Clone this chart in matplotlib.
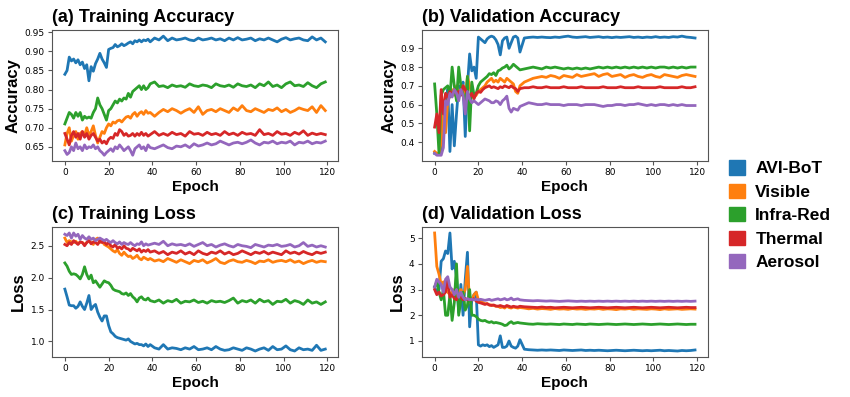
import matplotlib
matplotlib.use('Agg')
import matplotlib.pyplot as plt
import matplotlib.ticker as ticker
from matplotlib.patches import Patch

# epochs: every epoch up to 39, then every other epoch
epochs = list(range(0, 40)) + list(range(41, 120, 2))

labels = ['AVI-BoT', 'Visible', 'Infra-Red', 'Thermal', 'Aerosol']
colors = ['#1f77b4', '#ff7f0e', '#2ca02c', '#d62728', '#9467bd']

# (a) training accuracy
train_acc_avibot = [.840, .850, .885, .875, .880, .870, .878, .865, .872, .855, .865, .823, .860, .848, .868, .880, .895, .880, .870, .858,
                    .905, .908, .910, .918, .912, .915, .920, .915, .918, .922, .925, .920, .928, .925, .930, .925, .930, .928, .932, .925,
                    .935, .930, .940, .928, .935, .930, .932, .935, .930, .928, .935, .930, .932, .935, .930, .933, .928, .935, .930, .936,
                    .930, .932, .935, .928, .933, .930, .935, .930, .925, .932, .936, .930, .933, .935, .930, .928, .938, .930, .935, .925]
train_acc_visible = [.655, .685, .700, .665, .680, .690, .670, .685, .690, .680, .700, .680, .690, .705, .680, .660, .675, .690, .685, .700,
                     .710, .705, .715, .712, .718, .720, .715, .722, .728, .730, .725, .735, .740, .730, .738, .742, .735, .745, .738, .740,
                     .730, .740, .748, .742, .750, .745, .738, .745, .750, .740, .755, .735, .745, .748, .742, .750, .745, .740, .752, .745,
                     .758, .745, .742, .750, .745, .740, .748, .745, .752, .742, .748, .740, .745, .752, .748, .745, .755, .740, .758, .745]
train_acc_infrared = [.710, .725, .740, .735, .725, .740, .730, .740, .720, .730, .725, .728, .725, .740, .750, .778, .760, .750, .735, .720,
                      .745, .750, .760, .770, .765, .775, .770, .778, .775, .790, .780, .795, .800, .805, .810, .800, .810, .800, .805, .815,
                      .820, .808, .810, .805, .812, .808, .810, .806, .815, .810, .808, .812, .810, .805, .815, .810, .808, .812, .806, .815,
                      .810, .808, .812, .805, .815, .810, .820, .808, .812, .805, .815, .820, .810, .812, .808, .818, .810, .805, .815, .820]
train_acc_thermal = [.685, .670, .655, .680, .690, .675, .685, .670, .690, .675, .685, .670, .680, .685, .675, .665, .670, .660, .665, .658,
                     .670, .675, .672, .685, .680, .695, .690, .680, .685, .678, .680, .685, .678, .685, .680, .688, .680, .685, .678, .682,
                     .690, .680, .685, .680, .688, .682, .685, .678, .690, .683, .685, .680, .688, .682, .685, .680, .690, .682, .686, .680,
                     .688, .683, .685, .680, .695, .682, .685, .680, .690, .683, .685, .680, .688, .683, .692, .680, .686, .682, .685, .682]
train_acc_aerosol = [.640, .630, .635, .650, .640, .660, .645, .650, .640, .655, .645, .650, .648, .655, .645, .650, .640, .635, .628, .635,
                     .640, .645, .638, .650, .645, .655, .648, .640, .645, .650, .640, .628, .645, .650, .655, .645, .650, .640, .655, .648,
                     .645, .650, .655, .648, .645, .652, .650, .655, .648, .658, .652, .655, .660, .655, .658, .665, .660, .655, .660, .662,
                     .658, .662, .668, .660, .655, .662, .660, .665, .658, .662, .660, .665, .655, .662, .660, .665, .658, .662, .660, .665]

# (b) validation accuracy
val_acc_avibot = [.34, .34, .34, .35, .50, .62, .68, .35, .60, .38, .55, .70, .68, .72, .43, .70, .87, .78, .80, .74,
                  .96, .95, .94, .93, .95, .96, .965, .96, .945, .92, .865, .94, .955, .96, .90, .93, .96, .965, .955, .88,
                  .955, .958, .960, .958, .960, .958, .957, .960, .958, .962, .965, .960, .958, .960, .962, .958, .960, .962, .958, .960,
                  .957, .960, .958, .960, .962, .958, .960, .957, .960, .958, .962, .958, .960, .958, .962, .960, .965, .960, .958, .955]
val_acc_visible = [.35, .34, .34, .40, .60, .45, .62, .65, .68, .65, .70, .66, .68, .70, .62, .75, .70, .66, .64, .65,
                   .67, .68, .69, .70, .72, .73, .74, .72, .73, .72, .74, .73, .72, .74, .73, .72, .71, .67, .66, .70,
                   .72, .73, .74, .745, .75, .745, .755, .75, .74, .755, .75, .745, .76, .75, .755, .76, .765, .75, .76, .765,
                   .75, .755, .76, .745, .755, .76, .75, .745, .755, .76, .75, .745, .76, .755, .75, .745, .755, .76, .755, .75]
val_acc_infrared = [.71, .55, .34, .65, .68, .69, .70, .64, .80, .70, .62, .80, .70, .65, .60, .75, .46, .72, .65, .66,
                    .70, .72, .73, .74, .75, .765, .76, .77, .755, .78, .785, .795, .80, .81, .79, .80, .815, .805, .795, .785,
                    .79, .795, .80, .795, .79, .80, .795, .80, .795, .79, .795, .79, .795, .79, .795, .79, .795, .80, .795, .80,
                    .795, .80, .795, .80, .795, .80, .795, .80, .795, .80, .795, .80, .80, .795, .80, .795, .80, .795, .80, .80]
val_acc_thermal = [.48, .55, .45, .68, .55, .66, .64, .67, .65, .68, .66, .67, .65, .70, .68, .66, .64, .66, .63, .66,
                   .67, .665, .68, .69, .695, .70, .69, .695, .69, .685, .695, .69, .70, .695, .69, .70, .69, .685, .67, .685,
                   .69, .69, .695, .69, .69, .695, .69, .69, .69, .695, .69, .69, .69, .695, .69, .69, .69, .69, .695, .69,
                   .69, .69, .695, .69, .69, .69, .695, .69, .69, .69, .69, .695, .69, .69, .69, .69, .695, .69, .69, .695]
val_acc_aerosol = [.34, .33, .33, .33, .37, .62, .60, .66, .64, .68, .66, .62, .68, .65, .55, .67, .63, .61, .62, .61,
                   .60, .61, .62, .63, .625, .62, .61, .61, .62, .615, .60, .62, .63, .645, .58, .56, .58, .575, .57, .59,
                   .60, .61, .605, .60, .60, .605, .60, .60, .60, .595, .60, .60, .60, .595, .60, .60, .60, .595, .59, .595,
                   .595, .60, .60, .595, .60, .60, .605, .60, .595, .60, .595, .60, .60, .595, .60, .595, .60, .595, .595, .595]

# (c) training loss
train_loss_avibot = [1.82, 1.70, 1.57, 1.56, 1.56, 1.52, 1.55, 1.62, 1.55, 1.50, 1.60, 1.72, 1.50, 1.55, 1.58, 1.46, 1.38, 1.32, 1.40, 1.40,
                     1.25, 1.15, 1.12, 1.08, 1.06, 1.05, 1.04, 1.03, 1.02, 1.04, 1.00, 0.98, 0.96, 0.97, 0.95, 0.95, 0.93, 0.96, 0.92, 0.95,
                     0.90, 0.88, 0.95, 0.88, 0.90, 0.89, 0.87, 0.90, 0.88, 0.92, 0.87, 0.88, 0.90, 0.87, 0.92, 0.88, 0.86, 0.87, 0.90, 0.88,
                     0.86, 0.90, 0.88, 0.85, 0.88, 0.90, 0.86, 0.92, 0.87, 0.88, 0.93, 0.87, 0.85, 0.90, 0.87, 0.88, 0.86, 0.94, 0.86, 0.88]
train_loss_visible = [2.62, 2.55, 2.58, 2.56, 2.55, 2.57, 2.53, 2.56, 2.55, 2.52, 2.55, 2.58, 2.55, 2.52, 2.60, 2.62, 2.55, 2.58, 2.52, 2.50,
                      2.48, 2.45, 2.42, 2.40, 2.44, 2.38, 2.35, 2.40, 2.36, 2.33, 2.34, 2.30, 2.32, 2.35, 2.30, 2.28, 2.32, 2.30, 2.28, 2.30,
                      2.26, 2.28, 2.25, 2.30, 2.27, 2.24, 2.28, 2.25, 2.22, 2.27, 2.25, 2.28, 2.23, 2.26, 2.30, 2.24, 2.22, 2.26, 2.28, 2.25,
                      2.24, 2.27, 2.25, 2.22, 2.26, 2.25, 2.28, 2.24, 2.26, 2.27, 2.25, 2.28, 2.24, 2.26, 2.22, 2.25, 2.27, 2.24, 2.26, 2.25]
train_loss_infrared = [2.23, 2.18, 2.10, 2.05, 2.06, 2.05, 2.02, 1.98, 2.05, 2.17, 2.05, 1.98, 2.04, 1.92, 1.95, 1.90, 1.85, 1.90, 1.95, 1.93,
                       1.92, 1.88, 1.82, 1.80, 1.79, 1.78, 1.75, 1.74, 1.76, 1.72, 1.75, 1.70, 1.67, 1.62, 1.68, 1.70, 1.66, 1.65, 1.68, 1.64,
                       1.62, 1.65, 1.60, 1.64, 1.62, 1.66, 1.60, 1.63, 1.62, 1.65, 1.61, 1.63, 1.60, 1.64, 1.62, 1.63, 1.61, 1.64, 1.68, 1.60,
                       1.64, 1.62, 1.65, 1.60, 1.66, 1.62, 1.64, 1.58, 1.63, 1.62, 1.66, 1.60, 1.64, 1.62, 1.58, 1.65, 1.60, 1.62, 1.58, 1.62]
train_loss_thermal = [2.52, 2.50, 2.55, 2.52, 2.58, 2.55, 2.52, 2.56, 2.55, 2.50, 2.55, 2.58, 2.53, 2.56, 2.55, 2.52, 2.58, 2.55, 2.56, 2.52,
                      2.55, 2.50, 2.48, 2.52, 2.46, 2.48, 2.45, 2.50, 2.46, 2.45, 2.42, 2.46, 2.44, 2.42, 2.45, 2.40, 2.43, 2.41, 2.44, 2.40,
                      2.42, 2.38, 2.41, 2.36, 2.40, 2.38, 2.42, 2.37, 2.40, 2.36, 2.42, 2.38, 2.36, 2.40, 2.38, 2.42, 2.37, 2.40, 2.36, 2.38,
                      2.42, 2.39, 2.36, 2.40, 2.38, 2.41, 2.37, 2.40, 2.38, 2.36, 2.42, 2.38, 2.40, 2.37, 2.41, 2.38, 2.36, 2.40, 2.38, 2.40]
train_loss_aerosol = [2.68, 2.66, 2.70, 2.62, 2.70, 2.65, 2.68, 2.60, 2.66, 2.62, 2.60, 2.64, 2.60, 2.62, 2.58, 2.60, 2.62, 2.60, 2.58, 2.60,
                      2.57, 2.55, 2.58, 2.55, 2.53, 2.56, 2.52, 2.55, 2.53, 2.52, 2.55, 2.52, 2.50, 2.53, 2.52, 2.56, 2.50, 2.53, 2.51, 2.52,
                      2.54, 2.52, 2.57, 2.50, 2.53, 2.51, 2.52, 2.50, 2.53, 2.49, 2.52, 2.55, 2.50, 2.52, 2.48, 2.51, 2.53, 2.50, 2.48, 2.52,
                      2.50, 2.49, 2.47, 2.52, 2.50, 2.48, 2.51, 2.50, 2.52, 2.49, 2.50, 2.52, 2.48, 2.50, 2.55, 2.49, 2.51, 2.48, 2.50, 2.48]

# (d) validation loss
val_loss_avibot = [3.1, 2.9, 3.0, 4.1, 4.2, 4.5, 4.4, 5.2, 3.8, 4.1, 3.5, 2.1, 3.2, 2.0, 3.4, 4.45, 1.55, 2.6, 2.8, 2.9,
                   0.85, 0.80, 0.85, 0.82, 0.85, 0.78, 0.82, 0.75, 0.80, 0.85, 1.20, 0.75, 0.75, 0.80, 1.00, 0.80, 0.75, 0.72, 0.80, 1.05,
                   0.68, 0.66, 0.65, 0.64, 0.65, 0.64, 0.65, 0.64, 0.63, 0.65, 0.64, 0.63, 0.64, 0.65, 0.63, 0.64, 0.63, 0.64, 0.63, 0.62,
                   0.63, 0.64, 0.63, 0.62, 0.63, 0.64, 0.63, 0.62, 0.63, 0.62, 0.63, 0.64, 0.62, 0.63, 0.62, 0.61, 0.63, 0.62, 0.63, 0.65]
val_loss_visible = [5.2, 3.9, 3.6, 3.2, 3.3, 3.0, 2.9, 2.8, 2.9, 3.0, 2.7, 2.9, 3.0, 2.8, 3.0, 3.9, 2.5, 2.6, 2.8, 2.9,
                    2.6, 2.55, 2.5, 2.45, 2.45, 2.4, 2.4, 2.38, 2.35, 2.35, 2.3, 2.32, 2.28, 2.35, 2.3, 2.28, 2.32, 2.3, 2.28, 2.3,
                    2.28, 2.25, 2.27, 2.24, 2.26, 2.25, 2.23, 2.26, 2.24, 2.25, 2.23, 2.26, 2.24, 2.25, 2.23, 2.25, 2.24, 2.26, 2.23, 2.25,
                    2.24, 2.22, 2.25, 2.24, 2.26, 2.23, 2.25, 2.24, 2.23, 2.25, 2.24, 2.22, 2.25, 2.23, 2.24, 2.25, 2.23, 2.24, 2.25, 2.24]
val_loss_infrared = [3.1, 3.3, 2.9, 2.6, 3.0, 2.0, 2.0, 2.8, 1.8, 2.5, 4.0, 2.0, 2.6, 2.9, 2.2, 2.4, 3.0, 2.0, 2.0, 1.95,
                     1.85, 1.8, 1.78, 1.8, 1.75, 1.72, 1.75, 1.7, 1.72, 1.7, 1.68, 1.65, 1.6, 1.62, 1.7, 1.75, 1.68, 1.7, 1.72, 1.7,
                     1.68, 1.66, 1.65, 1.67, 1.66, 1.65, 1.66, 1.65, 1.64, 1.66, 1.65, 1.64, 1.66, 1.65, 1.64, 1.66, 1.65, 1.64, 1.65, 1.66,
                     1.65, 1.64, 1.65, 1.66, 1.65, 1.64, 1.65, 1.66, 1.65, 1.64, 1.65, 1.66, 1.65, 1.64, 1.65, 1.66, 1.65, 1.64, 1.65, 1.65]
val_loss_thermal = [3.0, 2.8, 2.9, 2.75, 2.8, 2.9, 3.4, 2.7, 2.8, 2.65, 2.6, 2.8, 2.7, 2.6, 2.65, 2.6, 2.62, 2.6, 2.65, 2.55,
                    2.5, 2.48, 2.45, 2.42, 2.45, 2.4, 2.38, 2.4, 2.36, 2.35, 2.38, 2.35, 2.33, 2.38, 2.35, 2.32, 2.35, 2.33, 2.32, 2.35,
                    2.33, 2.32, 2.31, 2.30, 2.32, 2.30, 2.31, 2.29, 2.30, 2.31, 2.30, 2.29, 2.30, 2.31, 2.30, 2.29, 2.30, 2.31, 2.30, 2.29,
                    2.30, 2.31, 2.30, 2.29, 2.30, 2.31, 2.30, 2.29, 2.30, 2.31, 2.30, 2.29, 2.30, 2.31, 2.30, 2.29, 2.30, 2.31, 2.30, 2.30]
val_loss_aerosol = [3.1, 3.4, 3.3, 3.2, 2.9, 3.4, 3.5, 3.1, 3.0, 2.8, 3.0, 2.7, 2.9, 2.7, 2.6, 2.65, 2.6, 2.62, 2.6, 2.62,
                    2.6, 2.62, 2.6, 2.58, 2.6, 2.62, 2.58, 2.6, 2.62, 2.64, 2.6, 2.62, 2.65, 2.6, 2.62, 2.67, 2.6, 2.62, 2.64, 2.6,
                    2.58, 2.57, 2.56, 2.57, 2.56, 2.55, 2.56, 2.55, 2.54, 2.55, 2.56, 2.55, 2.54, 2.55, 2.54, 2.55, 2.54, 2.55, 2.54, 2.55,
                    2.54, 2.55, 2.54, 2.55, 2.54, 2.55, 2.54, 2.55, 2.54, 2.55, 2.54, 2.55, 2.54, 2.55, 2.54, 2.55, 2.54, 2.55, 2.54, 2.55]

# y tick values shown on each panel
acc_ticks_a = [0.65, 0.70, 0.75, 0.80, 0.85, 0.90, 0.95]
acc_ticks_b = [0.4, 0.5, 0.6, 0.7, 0.8, 0.9]
loss_ticks_c = [1.0, 1.5, 2.0, 2.5]
loss_ticks_d = [1, 2, 3, 4, 5]

panels = [
    ('(a) Training Accuracy', 'Accuracy', acc_ticks_a,
     [train_acc_avibot, train_acc_visible, train_acc_infrared, train_acc_thermal, train_acc_aerosol]),
    ('(b) Validation Accuracy', 'Accuracy', acc_ticks_b,
     [val_acc_avibot, val_acc_visible, val_acc_infrared, val_acc_thermal, val_acc_aerosol]),
    ('(c) Training Loss', 'Loss', loss_ticks_c,
     [train_loss_avibot, train_loss_visible, train_loss_infrared, train_loss_thermal, train_loss_aerosol]),
    ('(d) Validation Loss', 'Loss', loss_ticks_d,
     [val_loss_avibot, val_loss_visible, val_loss_infrared, val_loss_thermal, val_loss_aerosol]),
]

bold = {'family': 'Liberation Sans', 'weight': 'bold'}

fig = plt.figure(figsize=(8.5, 3.97), dpi=100)
rects = [
    [0.061, 0.594, 0.337, 0.330],
    [0.496, 0.594, 0.337, 0.330],
    [0.061, 0.101, 0.337, 0.327],
    [0.496, 0.101, 0.337, 0.327],
]

for rect, (title, ylabel, yticks, series) in zip(rects, panels):
    ax = fig.add_axes(rect)
    for vals, c in zip(series, colors):
        ax.plot(epochs, vals, color=c, linewidth=2)
    ax.set_title(title, loc='left', fontsize=13, pad=6, fontdict=bold)
    ax.set_xlabel('Epoch', fontsize=11, fontdict=bold, labelpad=2)
    ax.set_ylabel(ylabel, fontsize=12, fontdict=bold, labelpad=3)
    ax.set_xticks([0, 20, 40, 60, 80, 100, 120])
    ax.set_yticks(yticks)
    ax.tick_params(labelsize=6.5, length=3, color='#555555', pad=2)
    for s in ax.spines.values():
        s.set_color('#555555')

handles = [Patch(facecolor=c, edgecolor=c) for c in colors]
fig.legend(handles, labels, loc='center left', bbox_to_anchor=(0.858, 0.458),
           frameon=False, prop={'family': 'Liberation Sans', 'weight': 'bold', 'size': 12.5},
           handlelength=0.9, handleheight=0.9, handletextpad=0.6, labelspacing=0.42,
           borderpad=0, borderaxespad=0)

fig.savefig('out.png', dpi=100)
